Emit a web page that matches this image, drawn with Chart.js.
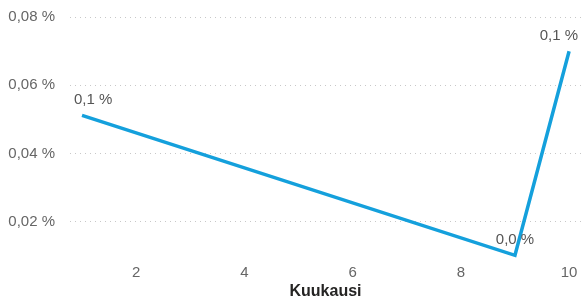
<!DOCTYPE html>
<html>
<head>
<meta charset="utf-8">
<script src="https://cdn.jsdelivr.net/npm/chart.js@4.4.0/dist/chart.umd.min.js"></script>
<style>
  html, body { margin: 0; padding: 0; background: #fff; }
  #wrap { width: 581px; height: 301px; }
</style>
</head>
<body>
<div id="wrap"><canvas id="chart" width="581" height="301"></canvas></div>
<script>
// data (values in percent)
const months = [1, 9, 10];
const shares = [0.0512, 0.0102, 0.070];
const yTicks = [0.02, 0.04, 0.06, 0.08];
const xTicks = [2, 4, 6, 8, 10];

const lineColor = "#14A0DC";
const textColor = "#666666";
const fontFam = "'Liberation Sans', Arial, sans-serif";

function fmtPct(v, d) {
  return v.toFixed(d).replace(".", ",") + " %";
}

// data labels above points
const pointLabels = {
  id: "pointLabels",
  afterDatasetsDraw(chart) {
    const ctx = chart.ctx;
    const meta = chart.getDatasetMeta(0);
    ctx.save();
    ctx.font = "15px " + fontFam;
    ctx.fillStyle = "#555555";
    ctx.textBaseline = "bottom";
    meta.data.forEach(function(pt, i) {
      var txt = fmtPct(shares[i], 1);
      var w = ctx.measureText(txt).width;
      var x = pt.x - w / 2;
      if (i == 0) x = pt.x - 8;   // first label sits a bit to the right
      if (x + w > chart.width - 3) x = chart.width - 3 - w;
      ctx.fillText(txt, x, pt.y - 8);
    });
    ctx.restore();
  }
};

var points = [];
for (var i = 0; i < months.length; i++) {
  points.push({ x: months[i], y: shares[i] });
}

new Chart(document.getElementById("chart"), {
  type: "scatter",
  data: {
    datasets: [{
      data: points,
      showLine: true,
      borderColor: lineColor,
      borderWidth: 3.5,
      pointRadius: 0,
      fill: false,
      clip: false
    }]
  },
  options: {
    responsive: false,
    animation: false,
    layout: { padding: 0 },
    plugins: { legend: { display: false }, tooltip: { enabled: false } },
    scales: {
      x: {
        type: "linear",
        min: 0.778,
        max: 10.22,
        afterBuildTicks: function(axis) { axis.ticks = xTicks.map(function(v) { return { value: v }; }); },
        afterFit: function(axis) {
          axis.height = 45;
          axis.paddingLeft = 0;
          axis.paddingRight = 0;
        },
        grid: { display: false, drawTicks: false },
        border: { display: false },
        ticks: {
          color: textColor,
          font: { size: 15, family: fontFam },
          padding: 8,
          maxRotation: 0
        },
        title: {
          display: true,
          text: "Kuukausi",
          color: "#252423",
          font: { size: 16, weight: "bold", family: fontFam },
          padding: { top: 1, bottom: 0 }
        }
      },
      y: {
        min: 0.01,
        max: 0.085,
        afterBuildTicks: function(axis) { axis.ticks = yTicks.map(function(v) { return { value: v }; }); },
        afterFit: function(axis) {
          axis.width = 70;
          axis.paddingTop = 0;
          axis.paddingBottom = 0;
        },
        grid: { color: "#c8c8c8", lineWidth: 1, drawTicks: false },
        border: { display: false, dash: [1, 4] },
        ticks: {
          color: textColor,
          font: { size: 15, family: fontFam },
          padding: 15,
          callback: function(v) { return fmtPct(v, 2); }
        }
      }
    }
  },
  plugins: [pointLabels]
});
</script>
</body>
</html>
